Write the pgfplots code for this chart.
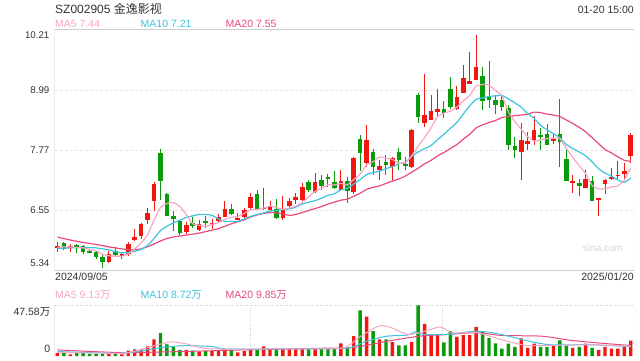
\documentclass[border=0pt]{standalone}
\usepackage{fontspec}
\setmainfont{Liberation Sans}
\newfontfamily\cjk{Noto Sans CJK SC}
\usepackage{pgfplots}
\usepackage{pgfplotstable}
\pgfplotsset{compat=1.18}
\definecolor{upc}{RGB}{240,24,16}
\definecolor{dnc}{RGB}{10,155,10}
\definecolor{maf}{RGB}{247,166,196}
\definecolor{mat}{RGB}{60,196,224}
\definecolor{maw}{RGB}{234,74,122}
\definecolor{txt}{RGB}{51,51,51}
\definecolor{bord}{RGB}{204,204,204}
\definecolor{gridc}{RGB}{228,228,228}

\pgfplotstableread{
x o h l c
0 5.78 5.90 5.71 5.83
2 5.79 5.87 5.71 5.82
8 5.50 5.73 5.48 5.67
10 5.63 5.71 5.56 5.66
11 5.66 5.90 5.63 5.87
12 5.95 6.18 5.94 6.01
13 6.03 6.30 5.98 6.28
14 6.36 6.61 6.28 6.50
15 6.75 7.13 6.53 7.09
20 6.12 6.31 6.08 6.25
22 6.15 6.36 6.13 6.27
24 6.26 6.37 6.18 6.29
25 6.34 6.47 6.29 6.41
26 6.42 6.75 6.41 6.58
28 6.37 6.49 6.35 6.40
29 6.41 6.61 6.40 6.56
30 6.61 6.91 6.56 6.82
32 6.58 7.01 6.55 6.61
33 6.56 6.75 6.53 6.64
35 6.40 6.84 6.36 6.59
36 6.64 6.81 6.61 6.74
37 6.76 6.90 6.68 6.82
38 6.76 7.10 6.75 7.02
40 6.93 7.31 6.90 7.13
44 6.97 7.37 6.95 7.14
46 6.93 7.64 6.89 7.62
48 7.51 8.29 7.44 7.98
50 7.37 7.58 7.16 7.45
52 7.44 7.64 7.16 7.61
55 7.44 8.21 7.41 8.19
57 8.32 9.33 8.24 8.49
58 8.40 8.89 8.38 8.57
59 8.55 9.02 8.46 8.62
62 8.62 9.08 8.59 8.86
63 8.94 9.51 8.93 9.24
64 9.13 9.77 9.12 9.19
65 9.21 10.12 9.20 9.47
72 7.73 8.32 7.18 7.98
73 7.90 8.15 7.79 7.96
74 7.98 8.47 7.88 8.19
77 7.96 8.13 7.90 8.00
80 7.12 7.27 6.91 7.15
82 7.01 7.37 7.00 7.20
84 6.77 6.80 6.44 6.80
85 7.09 7.20 6.89 7.17
86 7.20 7.41 7.18 7.23
87 7.25 7.56 7.16 7.28
88 7.29 7.51 7.16 7.36
89 7.66 8.12 7.52 8.08
}\upT

\pgfplotstableread{
x o h l c
1 5.88 5.90 5.75 5.77
3 5.85 5.87 5.69 5.82
4 5.83 5.85 5.67 5.71
5 5.73 5.77 5.69 5.69
6 5.71 5.72 5.57 5.60
7 5.61 5.65 5.39 5.50
9 5.72 5.80 5.60 5.65
16 7.72 7.80 6.76 7.16
17 6.89 6.90 6.43 6.44
18 6.44 6.53 6.14 6.38
19 6.33 6.34 6.05 6.10
21 6.29 6.42 6.19 6.23
23 6.34 6.43 6.20 6.30
27 6.59 6.68 6.46 6.48
31 6.89 6.97 6.55 6.59
34 6.59 6.78 6.37 6.40
39 7.13 7.18 6.93 6.97
41 7.18 7.27 6.97 7.05
42 7.24 7.29 7.02 7.20
43 7.13 7.36 6.98 7.00
45 7.16 7.24 6.71 6.95
47 8.00 8.09 7.36 7.72
49 7.73 7.81 7.27 7.43
51 7.54 7.68 7.27 7.48
53 7.73 7.82 7.37 7.58
54 7.50 7.63 7.37 7.46
56 8.90 8.94 8.32 8.45
60 8.62 8.77 8.44 8.53
61 9.02 9.26 8.62 8.65
66 9.29 9.46 8.59 8.78
67 8.88 9.58 8.63 8.80
68 8.80 8.90 8.51 8.69
69 8.79 8.90 8.57 8.65
70 8.63 8.70 7.79 7.89
71 7.87 8.04 7.62 7.79
75 8.09 8.22 7.79 8.05
76 8.11 8.31 7.88 7.88
78 8.11 8.81 7.44 7.95
79 7.60 7.78 7.14 7.16
81 7.10 7.20 6.84 7.05
83 7.14 7.25 6.75 6.75
}\dnT

\pgfplotstableread{
x v
0 2.6
2 1.6
8 1.9
10 1.6
11 5.1
12 6.1
13 6.1
14 8.9
15 15.6
20 5.7
22 4.2
24 4.5
25 4.8
26 6.7
28 3.5
29 4.5
30 6.1
32 8.9
33 5.7
35 6.7
36 6.7
37 6.7
38 7.3
40 7.3
44 11.8
46 18.5
48 36.7
50 15.6
52 13.1
55 13.1
57 30.0
58 20.1
59 19.5
62 17.9
63 19.5
64 19.5
65 27.1
72 16.5
73 7.6
74 11.5
77 9.5
80 7.5
82 11.5
84 5.6
85 8.5
86 7.0
87 7.0
88 8.8
89 14.4
}\volU

\pgfplotstableread{
x v
1 2.6
3 2.6
4 2.6
5 1.9
6 1.9
7 1.9
9 1.9
16 21.4
17 10.9
18 8.3
19 5.7
21 5.1
23 4.5
27 5.4
31 5.4
34 6.7
39 6.7
41 6.7
42 6.7
43 6.7
45 7.3
47 42.5
49 23.3
51 15.6
53 9.9
54 9.9
56 47.58
60 12.8
61 23.3
66 23.3
67 16.6
68 11.8
69 7.0
70 11.5
71 8.6
75 8.6
76 8.6
78 14.5
79 9.5
81 8.6
83 7.5
}\volD

\begin{document}
\begin{tikzpicture}
\path[use as bounding box] (0pt,0pt) rectangle (640pt,-360pt);

\begin{axis}[
  at={(54.5pt,-270pt)}, anchor=south west,
  scale only axis, width=579.5pt, height=240.5pt,
  xmin=-0.45, xmax=89.5, ymin=5.34, ymax=10.23,
  axis line style={draw=none},
  xtick=\empty,
  ytick={5.48,6.55,7.77,8.99,10.12},
  yticklabels={5.34,6.55,7.77,8.99,10.21},
  major tick length=0pt,
  yticklabel style={font=\fontsize{9.7}{11}\selectfont, text=txt, inner sep=0pt, xshift=-5pt},
  extra y ticks={6.55,7.77,8.99},
  extra y tick labels={},
  extra y tick style={grid=major, major grid style={draw=gridc, line width=1.2pt, dash pattern=on 3pt off 2pt}},
]
% wicks
\addplot[draw=none, mark=none, forget plot, error bars/.cd, y dir=both, y explicit, error mark=none,
  error bar style={draw=upc, line width=1pt, solid}]
  table[x=x, y expr={(\thisrow{h}+\thisrow{l})/2}, y error expr={(\thisrow{h}-\thisrow{l})/2}] {\upT};
\addplot[draw=none, mark=none, forget plot, error bars/.cd, y dir=both, y explicit, error mark=none,
  error bar style={draw=dnc, line width=1pt, solid}]
  table[x=x, y expr={(\thisrow{h}+\thisrow{l})/2}, y error expr={(\thisrow{h}-\thisrow{l})/2}] {\dnT};
% bodies
\addplot[draw=none, mark=none, forget plot, error bars/.cd, y dir=both, y explicit, error mark=none,
  error bar style={draw=upc, line width=4.6pt, solid}]
  table[x=x, y expr={(\thisrow{o}+\thisrow{c})/2}, y error expr={(\thisrow{c}-\thisrow{o})/2}] {\upT};
\addplot[draw=none, mark=none, forget plot, error bars/.cd, y dir=both, y explicit, error mark=none,
  error bar style={draw=dnc, line width=4.6pt, solid}]
  table[x=x, y expr={(\thisrow{o}+\thisrow{c})/2}, y error expr={(\thisrow{o}-\thisrow{c})/2}] {\dnT};
% MA20
\addplot[maw, line width=1.2pt, smooth, tension=0.3, mark=none] coordinates {
(0,6.01)(2,5.95)(4,5.90)(6,5.86)(8,5.81)(10,5.77)(11.5,5.75)(13,5.77)(14.5,5.84)(16,5.93)(17,5.98)(18,6.01)
(19,6.03)(20,6.05)(21,6.07)(22,6.09)(23,6.12)(24,6.15)(25,6.18)(26,6.23)(27,6.28)(28,6.32)(29,6.36)
(30,6.42)(31,6.46)(32,6.49)(33,6.51)(34,6.50)(35,6.48)(36,6.45)(37,6.47)(38,6.51)(39,6.55)(40,6.59)
(41,6.63)(42,6.68)(43,6.72)(44,6.76)(45,6.78)(46,6.84)(47,6.90)(48,6.98)(49,7.02)(50,7.05)(51,7.10)
(52,7.15)(53,7.19)(54,7.25)(55,7.33)(56,7.41)(57,7.50)(58,7.57)(59,7.66)(60,7.73)(61,7.81)(62,7.89)
(63,8.00)(64,8.10)(65,8.23)(66,8.29)(67,8.34)(68,8.38)(69,8.44)(70,8.46)(71,8.48)(72,8.49)(73,8.51)
(74,8.55)(75,8.54)(76,8.51)(77,8.49)(78,8.46)(79,8.39)(80,8.32)(81,8.24)(82,8.15)(83,8.03)(84,7.91)
(85,7.79)(86,7.72)(87,7.64)(88,7.57)(89,7.55)};
% MA10
\addplot[mat, line width=1.2pt, smooth, tension=0.3, mark=none] coordinates {
(0,5.78)(2,5.79)(4,5.80)(6,5.79)(8,5.75)(9,5.71)(10,5.69)(11,5.70)(12,5.72)(13,5.76)(14,5.84)(15,5.98)
(16,6.14)(17,6.23)(18,6.30)(19,6.35)(20,6.41)(21,6.44)(22,6.47)(23,6.47)(24,6.45)(25,6.38)(26,6.33)
(27,6.33)(28,6.33)(29,6.38)(30,6.43)(31,6.47)(32,6.50)(33,6.54)(34,6.55)(35,6.57)(36,6.58)(37,6.62)
(38,6.68)(39,6.72)(40,6.75)(41,6.80)(42,6.86)(43,6.89)(44,6.97)(45,7.00)(46,7.09)(47,7.18)(48,7.28)
(49,7.32)(50,7.35)(51,7.40)(52,7.44)(53,7.50)(54,7.53)(55,7.65)(56,7.74)(57,7.81)(58,7.87)(59,7.99)
(60,8.10)(61,8.22)(62,8.34)(63,8.51)(64,8.68)(65,8.81)(66,8.84)(67,8.87)(68,8.88)(69,8.89)(70,8.82)
(71,8.74)(72,8.65)(73,8.52)(74,8.42)(75,8.28)(76,8.19)(77,8.11)(78,8.03)(79,7.89)(80,7.81)(81,7.74)
(82,7.66)(83,7.54)(84,7.40)(85,7.31)(86,7.25)(87,7.17)(88,7.12)(89,7.21)};
% MA5
\addplot[maf, line width=1.2pt, smooth, tension=0.3, mark=none] coordinates {
(0,5.80)(1,5.81)(2,5.81)(3,5.80)(4,5.79)(5,5.76)(6,5.73)(7,5.66)(8,5.63)(9,5.62)(10,5.62)(11,5.67)
(12,5.77)(13,5.89)(14,6.06)(15,6.35)(16,6.61)(17,6.69)(18,6.71)(19,6.63)(20,6.47)(21,6.28)(22,6.25)
(23,6.23)(24,6.27)(25,6.30)(26,6.37)(27,6.41)(28,6.43)(29,6.49)(30,6.57)(31,6.57)(32,6.60)(33,6.64)
(34,6.61)(35,6.57)(36,6.60)(37,6.64)(38,6.71)(39,6.83)(40,6.94)(41,7.00)(42,7.07)(43,7.07)(44,7.10)
(45,7.07)(46,7.18)(47,7.29)(48,7.48)(49,7.54)(50,7.64)(51,7.61)(52,7.59)(53,7.51)(54,7.52)(55,7.66)
(56,7.86)(57,8.03)(58,8.23)(59,8.46)(60,8.53)(61,8.57)(62,8.65)(63,8.78)(64,8.89)(65,9.08)(66,9.11)
(67,9.10)(68,8.99)(69,8.88)(70,8.56)(71,8.36)(72,8.20)(73,8.05)(74,7.96)(75,7.99)(76,8.01)(77,8.02)
(78,8.01)(79,7.81)(80,7.63)(81,7.46)(82,7.30)(83,7.06)(84,6.99)(85,6.99)(86,7.03)(87,7.05)(88,7.17)(89,7.42)};
\draw[bord, line width=1pt] (rel axis cs:0,0) rectangle (rel axis cs:1,1);
\end{axis}

\begin{axis}[
  at={(54.5pt,-356pt)}, anchor=south west,
  scale only axis, width=579.5pt, height=51pt,
  xmin=-0.45, xmax=89.5, ymin=0, ymax=47.58,
  axis line style={draw=none},
  xtick=\empty,
  ytick={6.5,41.3},
  yticklabels={0,47.58{\cjk 万}},
  major tick length=0pt,
  yticklabel style={font=\fontsize{10.5}{12}\selectfont, text=txt, inner sep=0pt, xshift=-4pt},
  extra x ticks={29.9,59.8},
  extra x tick labels={},
  extra x tick style={grid=major, major grid style={draw=bord, line width=0.8pt, dash pattern=on 1pt off 1.5pt}},
]
\addplot[ybar, bar width=3.4pt, bar shift=0pt, draw=none, fill=upc, forget plot] table[x=x, y=v] {\volU};
\addplot[ybar, bar width=3.4pt, bar shift=0pt, draw=none, fill=dnc, forget plot] table[x=x, y=v] {\volD};
\addplot[maw, line width=1pt, smooth, tension=0.4, mark=none] coordinates {
(0,5.7)(10,3.2)(19.4,4.2)(28.9,5.7)(41.6,7.3)(46,8.0)(51.1,13.7)(56.2,18.5)(60.6,20.1)(65.1,21.7)(68.9,19.2)(75.2,18.5)(79.6,14.7)(84.1,12.1)(89,9.85)};
\addplot[mat, line width=1pt, smooth, tension=0.4, mark=none] coordinates {
(0,4.2)(10,2.6)(16.3,8.0)(19.5,9.6)(23.9,8.9)(26.4,6.4)(35.3,6.7)(44.8,7.3)(47.9,13.7)(51.1,18.5)(54.3,19.5)(55.6,22.7)(56.8,20.1)(60.6,20.1)(65.1,23.3)(68.9,20.1)(73.3,13.7)(76.5,10.5)(82.8,10.5)(89,8.72)};
\addplot[maf, line width=1pt, smooth, tension=0.4, mark=none] coordinates {
(0,3.5)(10,2.6)(13.7,7.3)(17.5,13.1)(20.1,11.2)(22.6,7.3)(26.4,6.4)(35.3,6.7)(44.2,7.3)(46.7,16.9)(49.9,28.1)(51.8,26.5)(54.3,20.1)(56.2,21.7)(59.4,27.1)(61.3,21.7)(65.1,21.7)(68.9,15.3)(72.7,9.9)(76.5,9.9)(82.8,10.5)(89,9.13)};
\draw[bord, line width=1pt] (rel axis cs:0,0) -- (rel axis cs:0,1);
\draw[bord, line width=1pt] (rel axis cs:1,0) -- (rel axis cs:1,1);
\draw[bord, line width=1pt, dash pattern=on 1pt off 1.5pt] (rel axis cs:0,1) -- (rel axis cs:1,1);
\end{axis}

\begin{scope}[every node/.style={inner sep=0pt, font=\fontsize{10.5}{12}\selectfont}]
\node[anchor=west, text=txt, font=\fontsize{12}{14}\selectfont] at (55pt,-8.5pt) {SZ002905 {\cjk 金逸影视}};
\node[anchor=east, text=txt] at (634pt,-10pt) {01-20 15:00};
\node[anchor=west, text=maf] at (55pt,-24pt) {MA5 7.44};
\node[anchor=west, text=mat] at (140.5pt,-24pt) {MA10 7.21};
\node[anchor=west, text=maw] at (225.5pt,-24pt) {MA20 7.55};
\node[anchor=west, text=txt] at (55pt,-277pt) {2024/09/05};
\node[anchor=east, text=txt] at (634pt,-277pt) {2025/01/20};
\node[anchor=west, text=maf] at (55pt,-295pt) {MA5 9.13{\cjk 万}};
\node[anchor=west, text=mat] at (140.5pt,-295pt) {MA10 8.72{\cjk 万}};
\node[anchor=west, text=maw] at (225.5pt,-295pt) {MA20 9.85{\cjk 万}};
\node[text={rgb,255:red,212;green,212;blue,212}, font=\fontsize{10}{12}\selectfont] at (603pt,-248pt) {sina.com};
\end{scope}
\end{tikzpicture}
\end{document}
